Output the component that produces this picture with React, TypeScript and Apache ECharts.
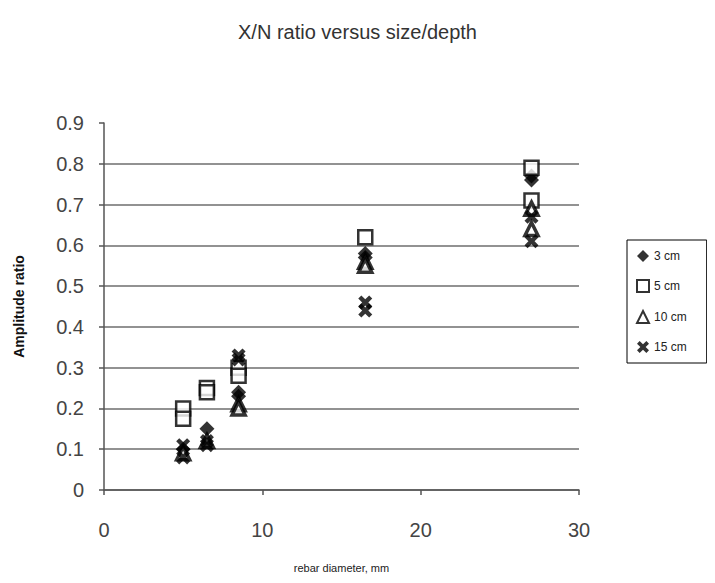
import React, { useEffect, useRef } from "react";
import * as echarts from "echarts";

const titleText = "X/N ratio versus size/depth";
const xAxisName = "rebar diameter, mm";
const yAxisName = "Amplitude ratio";
const seriesNames = ["3 cm", "5 cm", "10 cm", "15 cm"];

// [rebar diameter (mm), amplitude ratio]
const depth3cm: number[][] = [
  [5, 0.1], [6.5, 0.15], [8.5, 0.24], [8.5, 0.23],
  [16.5, 0.58], [16.5, 0.57], [27, 0.77], [27, 0.76],
];
const depth5cm: number[][] = [
  [5, 0.2], [5, 0.175], [6.5, 0.25], [6.5, 0.24], [8.5, 0.3], [8.5, 0.28],
  [16.5, 0.62], [27, 0.79], [27, 0.71],
];
const depth10cm: number[][] = [
  [5, 0.09], [6.5, 0.12], [8.5, 0.21], [8.5, 0.2],
  [16.5, 0.56], [16.5, 0.55], [27, 0.69], [27, 0.64],
];
const depth15cm: number[][] = [
  [5, 0.11], [5, 0.08], [6.5, 0.12], [6.5, 0.11], [8.5, 0.33], [8.5, 0.32],
  [16.5, 0.46], [16.5, 0.44], [27, 0.67], [27, 0.61],
];

const xTicks = { min: 0, max: 30, interval: 10 };
const yTicks = { min: 0, max: 0.9, interval: 0.1 };

const X_PATH =
  "path://M0,2.2 L2.2,0 L5,2.8 L7.8,0 L10,2.2 L7.2,5 L10,7.8 L7.8,10 L5,7.2 L2.2,10 L0,7.8 L2.8,5 Z";

export default function App() {
  const ref = useRef<HTMLDivElement>(null);
  useEffect(() => {
    if (!ref.current) return;
    const chart = echarts.init(ref.current, undefined, { renderer: "svg" });
    const font = "Liberation Sans, Arial, sans-serif";
    const gridColors: string[] = [];
    for (let i = 0; i < 9; i++) gridColors.push("#6e6e6e");
    gridColors.push("rgba(0,0,0,0)");
    chart.setOption({
      animation: false,
      backgroundColor: "#ffffff",
      textStyle: { fontFamily: font },
      title: {
        text: titleText,
        left: "center",
        top: 17,
        textStyle: { fontFamily: font, fontSize: 20, fontWeight: "normal", color: "#333" },
      },
      grid: { left: 104, right: 136, top: 123, bottom: 93 },
      legend: {
        orient: "vertical",
        left: 627,
        top: 240,
        data: seriesNames,
        borderColor: "#000",
        borderWidth: 1,
        padding: [10, 20, 10, 9],
        itemGap: 17,
        itemWidth: 12,
        itemHeight: 12,
        textStyle: { fontFamily: font, fontSize: 12, color: "#222" },
      },
      xAxis: {
        type: "value",
        min: xTicks.min,
        max: xTicks.max,
        interval: xTicks.interval,
        name: xAxisName,
        nameLocation: "middle",
        nameGap: 72,
        nameTextStyle: { fontFamily: font, fontSize: 11, color: "#222" },
        axisLine: { show: true, lineStyle: { color: "#555", width: 1.5 } },
        axisTick: { show: true, inside: false, length: 5, lineStyle: { color: "#555", width: 1.5 } },
        axisLabel: { fontSize: 20, color: "#444", margin: 30, fontFamily: font },
        splitLine: { show: false },
      },
      yAxis: {
        type: "value",
        min: yTicks.min,
        max: yTicks.max,
        interval: yTicks.interval,
        name: yAxisName,
        nameLocation: "middle",
        nameGap: 78,
        nameTextStyle: { fontFamily: font, fontSize: 14, fontWeight: "bold", color: "#111" },
        axisLine: { show: true, lineStyle: { color: "#555", width: 1.5 } },
        axisTick: { show: true, inside: false, length: 5, lineStyle: { color: "#555", width: 1.5 } },
        axisLabel: { fontSize: 20, color: "#444", margin: 20, fontFamily: font },
        splitLine: { show: true, lineStyle: { color: gridColors, width: 1.5 } },
      },
      series: [
        {
          name: seriesNames[0],
          type: "scatter",
          data: depth3cm,
          symbol: "diamond",
          symbolSize: 15,
          itemStyle: { color: "#000" },
        },
        {
          name: seriesNames[1],
          type: "scatter",
          data: depth5cm,
          symbol: "rect",
          symbolSize: 14,
          itemStyle: { color: "#fff", borderColor: "#000", borderWidth: 2.5 },
        },
        {
          name: seriesNames[2],
          type: "scatter",
          data: depth10cm,
          symbol: "triangle",
          symbolSize: 13,
          itemStyle: { color: "#fff", borderColor: "#000", borderWidth: 3.5 },
        },
        {
          name: seriesNames[3],
          type: "scatter",
          data: depth15cm,
          symbol: X_PATH,
          symbolSize: 14,
          itemStyle: { color: "#000" },
        },
      ],
    });
    return () => chart.dispose();
  }, []);
  return <div ref={ref} style={{ width: 715, height: 583, margin: -8 }} />;
}
